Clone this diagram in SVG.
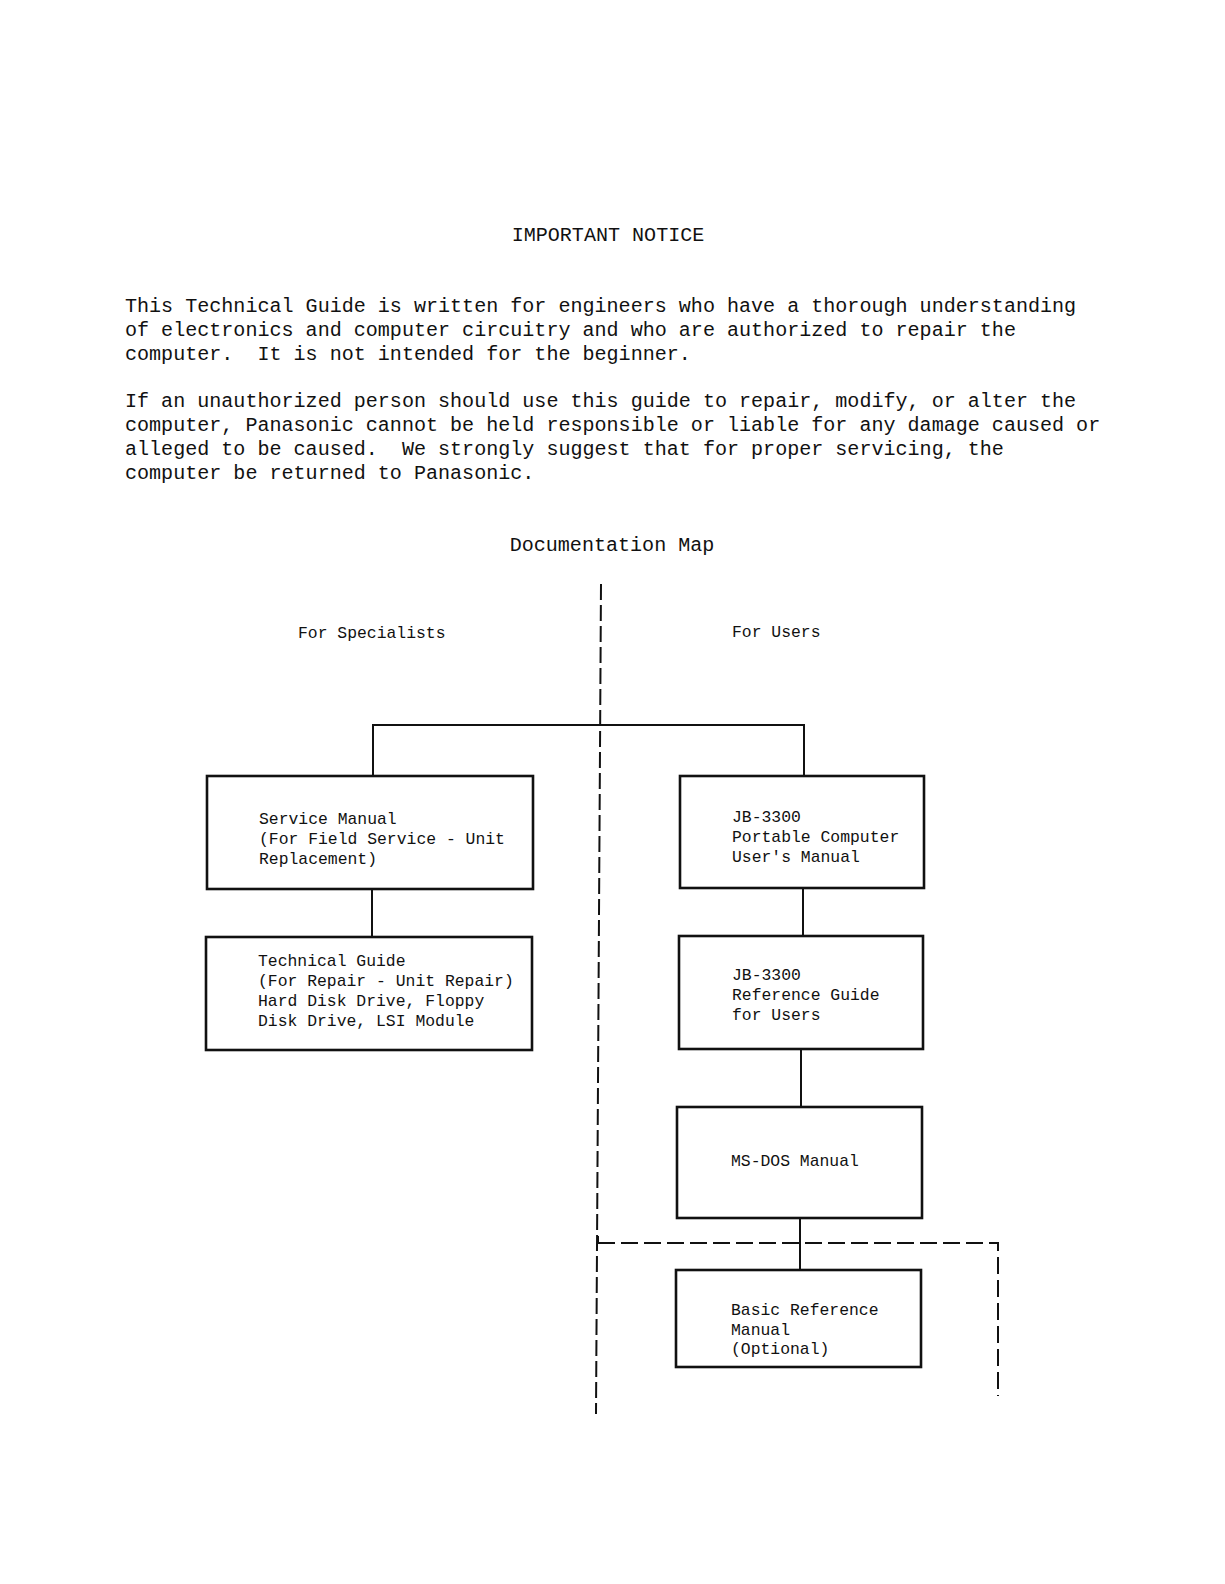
<svg xmlns="http://www.w3.org/2000/svg" width="1225" height="1584" viewBox="0 0 1225 1584">
<style>
.t{font-family:"Liberation Mono","DejaVu Sans Mono",monospace;fill:#111;white-space:pre}
.big{font-size:20.07px}
.sm{font-size:16.4px}
.box{fill:none;stroke:#111;stroke-width:2.6}
.ln{fill:none;stroke:#111;stroke-width:2}
.dash{fill:none;stroke:#111;stroke-width:2;stroke-dasharray:16 5}
.dashh{fill:none;stroke:#111;stroke-width:2;stroke-dasharray:17 6}
</style>
<rect width="1225" height="1584" fill="#fff"/>
<g id="header">
<text class="t big" x="608" y="241" text-anchor="middle">IMPORTANT NOTICE</text>
<text class="t big" x="125" y="312">This Technical Guide is written for engineers who have a thorough understanding</text>
<text class="t big" x="125" y="336">of electronics and computer circuitry and who are authorized to repair the</text>
<text class="t big" x="125" y="360" xml:space="preserve">computer.  It is not intended for the beginner.</text>
<text class="t big" x="125" y="407">If an unauthorized person should use this guide to repair, modify, or alter the</text>
<text class="t big" x="125" y="431">computer, Panasonic cannot be held responsible or liable for any damage caused or</text>
<text class="t big" x="125" y="455" xml:space="preserve">alleged to be caused.  We strongly suggest that for proper servicing, the</text>
<text class="t big" x="125" y="479">computer be returned to Panasonic.</text>
<text class="t big" x="612" y="551" text-anchor="middle">Documentation Map</text>
<text class="t sm" x="298" y="638">For Specialists</text>
<text class="t sm" x="732" y="637">For Users</text>
</g>
<g id="connectors">
<path class="dash" d="M601 584 L596 1414"/>
<path class="dashh" d="M598 1243 L998 1243 L998 1396"/>
<path class="ln" d="M598 1236 L598 1243"/>
<path class="ln" d="M373 776 L373 725 L804 725 L804 776"/>
<path class="ln" d="M372 889 L372 937"/>
<path class="ln" d="M803 888 L803 936"/>
<path class="ln" d="M801 1049 L801 1107"/>
<path class="ln" d="M800 1218 L800 1270"/>
</g>
<g id="service-manual">
<rect class="box" x="207" y="776" width="326" height="113"/>
<text class="t sm" x="259" y="824">Service Manual</text>
<text class="t sm" x="259" y="844">(For Field Service - Unit</text>
<text class="t sm" x="259" y="864">Replacement)</text>
</g>
<g id="users-manual">
<rect class="box" x="680" y="776" width="244" height="112"/>
<text class="t sm" x="732" y="822">JB-3300</text>
<text class="t sm" x="732" y="842">Portable Computer</text>
<text class="t sm" x="732" y="862">User's Manual</text>
</g>
<g id="technical-guide">
<rect class="box" x="206" y="937" width="326" height="113"/>
<text class="t sm" x="258" y="966">Technical Guide</text>
<text class="t sm" x="258" y="986">(For Repair - Unit Repair)</text>
<text class="t sm" x="258" y="1006">Hard Disk Drive, Floppy</text>
<text class="t sm" x="258" y="1026">Disk Drive, LSI Module</text>
</g>
<g id="reference-guide">
<rect class="box" x="679" y="936" width="244" height="113"/>
<text class="t sm" x="732" y="980">JB-3300</text>
<text class="t sm" x="732" y="1000">Reference Guide</text>
<text class="t sm" x="732" y="1020">for Users</text>
</g>
<g id="msdos-manual">
<rect class="box" x="677" y="1107" width="245" height="111"/>
<text class="t sm" x="731" y="1166">MS-DOS Manual</text>
</g>
<g id="basic-reference">
<rect class="box" x="676" y="1270" width="245" height="97"/>
<text class="t sm" x="731" y="1315">Basic Reference</text>
<text class="t sm" x="731" y="1335">Manual</text>
<text class="t sm" x="731" y="1354">(Optional)</text>
</g>
</svg>
